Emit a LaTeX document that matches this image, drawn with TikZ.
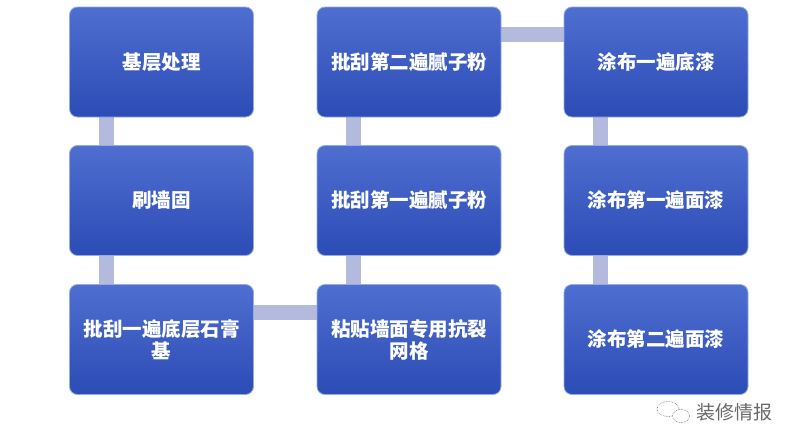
\documentclass[tikz,border=0pt]{standalone}
\usepackage{fontspec}
\newfontfamily\cjk{Noto Sans CJK SC}
\usetikzlibrary{backgrounds}
\definecolor{boxtop}{RGB}{78, 110, 208}
\definecolor{boxbot}{RGB}{44, 76, 182}
\definecolor{boxrim}{RGB}{150, 170, 228}
\definecolor{linkcol}{RGB}{180, 186, 222}
\definecolor{wmgray}{RGB}{105, 105, 105}
\tikzset{
  stepbox/.style={rounded corners=8pt, draw=boxrim, line width=0.8pt,
    top color=boxtop, bottom color=boxbot, minimum width=184pt,
    minimum height=110pt, inner sep=0pt, text=white, align=center,
    text width=166pt, font=\cjk\bfseries\fontsize{19.5}{22}\selectfont},
  linkbar/.style={draw=linkcol, line width=15pt}
}
\begin{document}
\begin{tikzpicture}[x=1pt, y=-1pt]
      \useasboundingbox (0, 0) rectangle (800, 447);
      \def\W{37}
      \def\H{28}
      \foreach \name/\x/\y/\txt in {
          s1/161.5/62/基层处理, s2/161.5/200.5/刷墙固,
          s3/161.5/339.5/批刮一遍底层石膏\\基, s4/409/339.5/粘贴墙面专用抗裂\\网格,
          s5/409/200.5/批刮第一遍腻子粉, s6/409/62/批刮第二遍腻子粉,
          s7/656/62/涂布一遍底漆, s8/656/200.5/涂布第一遍面漆,
          s9/656/339.5/涂布第二遍面漆} {
        \node[stepbox] (\name) at (\x, \y) {\txt};
      }
      \begin{scope}[on background layer]
        \fill[white] (0, 0) rectangle (800, 447);
        \foreach \a/\b in {s1/s2, s2/s3, s6/s5, s5/s4, s7/s8, s8/s9} {
          \draw[linkbar] ([xshift=\W pt]\a.south west) -- ([xshift=\W pt]\b.north west);
        }
        \foreach \a/\b in {s3/s4, s6/s7} {
          \draw[linkbar] ([yshift=-\H pt]\a.north east) -- ([yshift=-\H pt]\b.north west);
        }
      \end{scope}
      % watermark
      \draw[wmgray, line width=0.6pt, densely dotted] (668, 409) ellipse (11 and 7.5);
      \draw[wmgray, line width=0.6pt, densely dotted, fill=white] (681, 416) ellipse (8.5 and 6.5);
      \node[wmgray, font=\cjk\fontsize{19}{22}\selectfont] (wm) at (734, 412) {装修情报};
    \end{tikzpicture}
\end{document}
